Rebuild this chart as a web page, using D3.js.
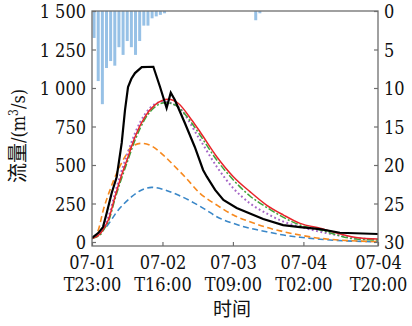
<!DOCTYPE html>
<html><head><meta charset="utf-8">
<script src="https://cdn.jsdelivr.net/npm/d3@7"></script>
<style>
html,body{margin:0;padding:0;background:#fff;}
svg{display:block;}
.serif{font-family:"DejaVu Serif Condensed","DejaVu Serif",serif;font-stretch:condensed;}
</style></head>
<body>
<svg id="c" width="412" height="326"></svg>
<script>
// hours since 07-01 23:00
const tickHours = [0, 17, 34, 51, 69];
const tickDates = ["07-01", "07-02", "07-03", "07-04", "07-04"];
const tickTimes = ["T23:00", "T16:00", "T09:00", "T02:00", "T20:00"];
const flowTicks = [0, 250, 500, 750, 1000, 1250, 1500];
const rainTicks = [0, 5, 10, 15, 20, 25, 30];

// rainfall (mm), hourly
const rainHour = [0,1,2,3,4,5,6,7,8,9,10,11,12,13,14,15,16,17,39,40];
const rainMM   = [3.5,9.1,12.1,7.4,6.5,7.1,4.7,5.7,3.9,4.7,5.7,3.9,1.9,1.9,0.95,0.7,0.5,0.3,1.2,0.3];

// observed discharge (black)
const obsHour = [0,1.5,2.65,3.55,4.75,5.96,7.17,7.96,8.69,9.5,10.37,12.0,14.8,16.4,18.0,19.0,20.0,22.4,24.8,26.8,27.7,29.7,31.7,34.9,41.3,46.1,50.2,55.0,59.8,69];
const obsFlow = [26,58,97,188,318,422,643,857,1006,1060,1097,1136,1138,1008,870,970,922,773,617,468,424,338,273,221,149,110,97,84,60,52];

// simulated (red, solid)
const redHour = [0,1.93,2.9,3.93,5.55,6.76,8.44,10.4,12.8,15.2,18.4,20.8,24.05,26.05,30.1,34.1,38.1,42.1,46.2,50.2,55.0,63.7,69];
const redFlow = [23,52,91,143,294,403,532,684,814,890,927,901,792,716,554,424,327,240,175,121,89,29,19];
// green dash-dot
const grnHour = [0,1.93,2.9,3.93,5.55,6.76,8.44,10.4,12.8,15.2,17.6,20.0,24.05,26.05,30.1,34.1,38.1,42.1,46.2,50.2,55.0,63.7,69];
const grnFlow = [23,45,84,130,279,383,513,662,799,877,905,890,773,695,532,403,299,225,160,110,78,19,13];
// purple dotted
const purHour = [0,1.93,2.9,3.93,5.55,6.76,8.44,10.4,12.8,15.2,17.1,20.7,25.6,30.1,34.1,38.1,42.1,46.2,50.2,55.0,63.7,69];
const purFlow = [23,58,104,162,318,429,565,708,831,896,911,879,684,489,349,251,186,132,99,67,26,16];
// orange dashed
const orgHour = [0,1.52,2.73,4.34,5.96,7.96,9.58,11.99,14.4,17.6,20.8,22.4,26.05,30.1,34.1,38.1,42.1,46.2,50.2,55.0,69];
const orgFlow = [23,78,208,338,448,554,619,641,623,554,468,424,316,240,175,132,95,67,45,24,2];
// blue dashed
const bluHour = [0,1.45,3.14,6.35,9.58,11.99,14.4,17.6,20.8,24.8,27.3,30.1,34.1,38.1,42.1,46.2,50.2,55.0,69];
const bluFlow = [23,52,89,208,294,338,355,338,305,251,212,164,121,89,67,45,31,18,1];

const CJK = "Noto Sans CJK SC";
const FS = 18;

const L = 92, R = 378, T = 11, B = 246;
const svg = d3.select("#c");
const x = d3.scaleLinear().domain([0, 69]).range([L, R]);
const y = d3.scaleLinear().domain([0, 1500]).range([242, T]);
const yr = d3.scaleLinear().domain([0, 30]).range([T, 242]);

svg.append("defs").append("clipPath").attr("id","clip")
  .append("rect").attr("x",L).attr("y",T).attr("width",R-L).attr("height",B-T);

const g = svg.append("g").attr("clip-path","url(#clip)");

// rainfall bars
const bw = x(0.72) - x(0);
g.selectAll("rect.rain").data(rainHour.map((h,i)=>({h, v: rainMM[i]})))
  .enter().append("rect").attr("class","rain")
  .attr("x", d => x(d.h + 0.5) - bw/2)
  .attr("y", T)
  .attr("width", bw)
  .attr("height", d => yr(d.v) - T)
  .attr("fill", "#97c1e6");

const series = [
  {h: bluHour, v: bluFlow, c: "#3a87c8", w: 1.6, dash: "6,3.5", curve: d3.curveMonotoneX},
  {h: orgHour, v: orgFlow, c: "#f7891e", w: 1.6, dash: "6,3.5", curve: d3.curveMonotoneX},
  {h: purHour, v: purFlow, c: "#a566c6", w: 2, dash: "1.8,2.6", curve: d3.curveMonotoneX},
  {h: grnHour, v: grnFlow, c: "#3fa33a", w: 1.5, dash: "7,2,2,2", curve: d3.curveMonotoneX},
  {h: redHour, v: redFlow, c: "#e8242a", w: 1.5, dash: null, curve: d3.curveMonotoneX},
  {h: obsHour, v: obsFlow, c: "#000000", w: 2.2, dash: null, curve: d3.curveLinear}
];
series.forEach(s => {
  const line = d3.line().x(d => x(d[0])).y(d => y(d[1])).curve(s.curve);
  g.append("path").datum(s.h.map((h,i)=>[h, s.v[i]]))
    .attr("d", line).attr("fill","none")
    .attr("stroke", s.c).attr("stroke-width", s.w)
    .attr("stroke-dasharray", s.dash);
});

// frame
svg.append("rect").attr("x",L).attr("y",T).attr("width",R-L).attr("height",B-T)
  .attr("fill","none").attr("stroke","#6e6e6e").attr("stroke-width",1.3);

const fmt = d => d3.format(",")(d).replace(/,/g, " ");
const ax = sel => { sel.select(".domain").remove();
  sel.attr("font-family", null).attr("font-size", null);
  sel.selectAll(".tick line").attr("stroke","#6e6e6e").attr("stroke-width",1.2);
  sel.selectAll("text").attr("class", "serif").attr("font-size", FS).attr("fill","#111"); };

svg.append("g").attr("transform",`translate(${L},0)`)
  .call(d3.axisLeft(y).tickValues(flowTicks).tickFormat(fmt).tickSizeInner(-4).tickSizeOuter(0).tickPadding(6))
  .call(ax).selectAll("text").attr("dy","0.38em");

svg.append("g").attr("transform",`translate(${R},0)`)
  .call(d3.axisRight(yr).tickValues(rainTicks).tickSizeInner(-4).tickSizeOuter(0).tickPadding(6))
  .call(ax).selectAll("text").attr("dy","0.38em");

const bx = svg.append("g").attr("transform",`translate(0,${B})`)
  .call(d3.axisBottom(x).tickValues(tickHours).tickFormat("").tickSizeInner(-4).tickSizeOuter(0))
  .call(ax);
bx.selectAll(".tick").each(function(d, i){
  const t = d3.select(this).append("text").attr("text-anchor","middle").attr("class","serif")
    .attr("font-size", FS).attr("fill","#111");
  t.append("tspan").attr("x",0).attr("y",23).text(tickDates[i]);
  t.append("tspan").attr("x",0).attr("y",45).text(tickTimes[i]);
});

// axis titles
svg.append("text").attr("x", 232).attr("y", 316).attr("text-anchor","middle")
  .attr("font-size", 19).attr("font-family", CJK).attr("fill","#111").text("时间");

const yt = svg.append("text").attr("transform","translate(25,136) rotate(-90)").attr("class","serif")
  .attr("text-anchor","middle").attr("font-size", FS).attr("fill","#111");
yt.append("tspan").attr("font-family", CJK).attr("font-size", 20).text("流量");
yt.append("tspan").text("/(m");
yt.append("tspan").attr("dy","-7").attr("font-size", 12).text("3");
yt.append("tspan").attr("dy","7").text("/s)");
</script>
</body></html>
